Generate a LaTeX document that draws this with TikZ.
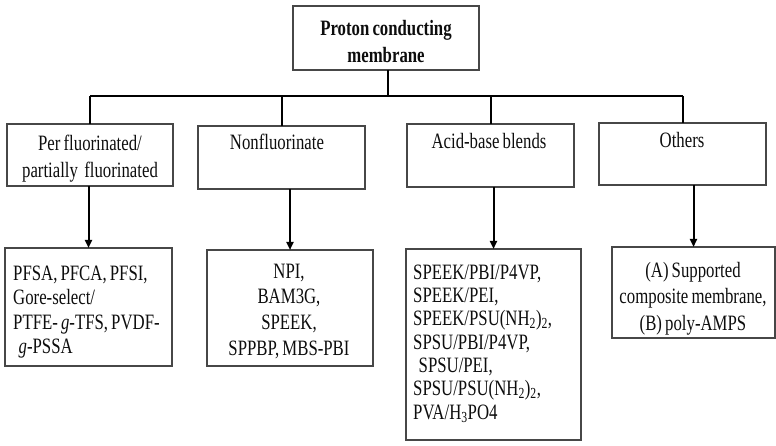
\documentclass[tikz,border=0pt]{standalone}
\usepackage{fontspec}
\setmainfont{Liberation Serif}[FakeStretch=0.765,WordSpace=0.75]
\usetikzlibrary{arrows.meta}
% zero-width strut that fixes the height of a first line
\newcommand\topstrut{\rule{0pt}{17bp}}
\begin{document}
\begin{tikzpicture}[x=1bp,y=-1bp,
  box/.style={draw=black!72, line width=1.3bp, inner sep=0pt, outer sep=0pt,
    anchor=north west},
  txt/.style={inner sep=0pt, text=black!95},
  tfont/.style={font=\fontsize{22}{#1}\selectfont},
  link/.style={line width=2bp, black},
  arr/.style={link, -{Triangle[length=8bp,width=7bp]}}]
\useasboundingbox (0,0) rectangle (776,446);

% ---- boxes ----
\node[box, minimum width=186bp, minimum height=64bp] (root) at (293,6) {};
\node[box, minimum width=166bp, minimum height=62bp] (m1) at (7,124) {};
\node[box, minimum width=167bp, minimum height=63bp] (m2) at (198,126) {};
\node[box, minimum width=167bp, minimum height=63bp] (m3) at (407,124) {};
\node[box, minimum width=167bp, minimum height=62bp] (m4) at (599,123) {};
\node[box, minimum width=167bp, minimum height=118bp] (b1) at (5,248) {};
\node[box, minimum width=166bp, minimum height=116bp] (b2) at (207,250) {};
\node[box, minimum width=175bp, minimum height=191bp] (b3) at (406,249) {};
\node[box, minimum width=163bp, minimum height=91bp] (b4) at (612,247) {};

% ---- texts ----
\node[txt, tfont=27bp, align=center, anchor=north] (troot) at (386,18)
  {\topstrut\textbf{Proton conducting}\\\textbf{membrane}};
\node[txt, tfont=27bp, align=center, anchor=north] (tm1) at (90,133)
  {\topstrut Per fluorinated/\\partially\ \ fluorinated};
\node[txt, tfont=27bp, anchor=base] (tm2) at (277,150) {Nonfluorinate};
\node[txt, tfont=27bp, anchor=base] (tm3) at (489,149) {Acid-base blends};
\node[txt, tfont=27bp, anchor=base] (tm4) at (682,148) {Others};

\node[txt, tfont=24.5bp, align=left, anchor=north west] (tb1) at (13,263)
  {\topstrut PFSA, PFCA, PFSI,\\Gore-select/\\PTFE- \textit{g}-TFS, PVDF-\\
   \hspace{0.25em}\textit{g}-PSSA};
\node[txt, tfont=25.8bp, align=center, anchor=north] (tb2) at (289,261)
  {\topstrut NPI,\\BAM3G,\\SPEEK,\\SPPBP, MBS-PBI};
\node[txt, tfont=23.3bp, align=left, anchor=north west] (tb3) at (413,262)
  {\topstrut SPEEK/PBI/P4VP,\\SPEEK/PEI,\\SPEEK/PSU(NH\textsubscript{2})\textsubscript{2},\\
   SPSU/PBI/P4VP,\\\hspace{0.25em}SPSU/PEI,\\SPSU/PSU(NH\textsubscript{2})\textsubscript{2},\\
   PVA/H\textsubscript{3}PO4};
\node[txt, tfont=26.5bp, align=center, anchor=north] (tb4) at (693,260)
  {\topstrut(A) Supported\\composite membrane,\\(B) poly-AMPS};

% ---- connectors ----
\coordinate (bus) at (388,96);
\draw[link] (root.south -| bus) -- (bus);
\draw[link] (m1.north |- bus) -- (m4.north |- bus);
\foreach \m in {m1,m2,m3,m4}
  \draw[link] (\m.north |- bus) -- (\m.north);
\draw[arr] (m1.south -| b1.north) -- (b1.north);
\draw[arr] (m2.south -| b2.north) -- (b2.north);
\draw[arr] (m3.south -| b3.north) -- (b3.north);
\draw[arr] (m4.south -| b4.north) -- (b4.north);
\end{tikzpicture}
\end{document}
